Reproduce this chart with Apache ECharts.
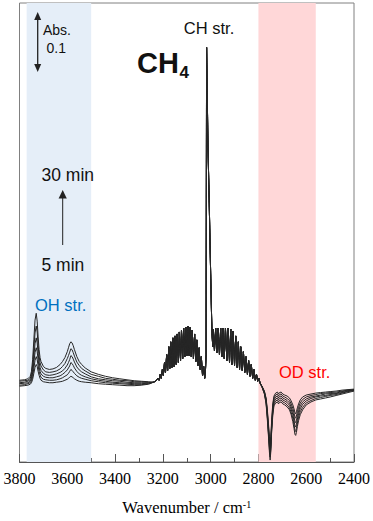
<!DOCTYPE html>
<html>
<head>
<meta charset="utf-8">
<script src="https://cdn.jsdelivr.net/npm/echarts@6/dist/echarts.min.js"></script>
<style>
html,body{margin:0;padding:0;background:#fff;}
#chart{width:373px;height:521px;}
</style>
</head>
<body>
<div id="chart"></div>
<script>
// ---- Data (absorbance, arbitrary offset; 0.1 Abs per scale bar) ----
const seriesNames = ['5 min','10 min','15 min','20 min','25 min','30 min'];
const xTicks = [3800,3600,3400,3200,3000,2800,2600,2400];

// OH stretching region, one array per spectrum
const ohWn = [3800,3780,3765,3755,3750,3745,3740,3735,3730,3726,3722,3718,3714,3710,3700,3690,3675,3660,3645,3630,3620,3610,3600,3595,3590,3585,3580,3575,3570,3560,3550,3540,3525,3500,3470,3440,3410,3380,3350,3320,3290,3260,3248];
const oh5  = [0,0.0008,0.0017,0.0033,0.0058,0.0117,0.0217,0.0317,0.0367,0.0333,0.025,0.0183,0.0133,0.01,0.0075,0.0067,0.0058,0.0058,0.0067,0.0075,0.0083,0.01,0.0117,0.0133,0.015,0.0167,0.0158,0.0142,0.0125,0.01,0.0083,0.0075,0.0067,0.0058,0.0042,0.0033,0.0025,0.0017,0.0008,0.0008,0.0017,0.0033,0.005];
const oh10 = [0.0017,0.0025,0.0042,0.0058,0.0092,0.0167,0.03,0.0433,0.05,0.045,0.0342,0.025,0.0192,0.015,0.0117,0.0108,0.01,0.01,0.0108,0.0125,0.0142,0.0167,0.0192,0.0217,0.025,0.0283,0.0267,0.0242,0.0217,0.0175,0.015,0.0133,0.0117,0.0092,0.0075,0.0058,0.005,0.0042,0.0033,0.0025,0.0025,0.0042,0.0058];
const oh15 = [0.0042,0.005,0.0058,0.0083,0.0125,0.0225,0.04,0.0567,0.065,0.0583,0.0442,0.0325,0.025,0.0208,0.0167,0.015,0.0142,0.0142,0.0158,0.0175,0.02,0.0233,0.0275,0.0308,0.0342,0.04,0.0383,0.035,0.0308,0.025,0.0208,0.0183,0.0158,0.0125,0.01,0.0083,0.0067,0.0058,0.005,0.0042,0.0042,0.005,0.0058];
const oh20 = [0.0058,0.0067,0.0083,0.0108,0.0158,0.0283,0.05,0.0717,0.0817,0.0733,0.055,0.0408,0.0317,0.0267,0.0217,0.0192,0.0183,0.0192,0.0208,0.0233,0.0258,0.03,0.0358,0.04,0.045,0.0517,0.05,0.0458,0.0408,0.0325,0.0275,0.0242,0.0208,0.0158,0.0125,0.0108,0.0092,0.0083,0.0067,0.0058,0.0058,0.0058,0.0067];
const oh25 = [0.0083,0.0092,0.01,0.0133,0.02,0.0358,0.0633,0.09,0.1017,0.0917,0.0683,0.0508,0.04,0.0342,0.0275,0.0242,0.0233,0.0242,0.0258,0.0292,0.0333,0.0383,0.0467,0.0517,0.0575,0.0633,0.0617,0.0567,0.0508,0.0408,0.035,0.03,0.0258,0.02,0.0167,0.0133,0.0117,0.01,0.0092,0.0075,0.0075,0.0067,0.0067];
const oh30 = [0.010,0.0108,0.0125,0.0167,0.025,0.045,0.0783,0.1117,0.1233,0.11,0.0833,0.0617,0.0483,0.0417,0.0333,0.03,0.0283,0.0292,0.0317,0.0367,0.0417,0.0483,0.0583,0.065,0.0717,0.075,0.0733,0.0683,0.0617,0.05,0.0417,0.0367,0.0308,0.0242,0.02,0.0167,0.0142,0.0125,0.0108,0.0092,0.0083,0.0075,0.0067];

// Gas-phase CH4 band (common to all spectra)
const ch4Wn = [3240,3230,3221,3216,3211,3207,3202,3198,3193,3189,3184,3180,3175,3171,3167,3162,3158,3153,3149,3144,3140,3135,3131,3126,3122,3117,3113,3108,3104,3099,3095,3090,3086,3081,3077,3072,3067,3062,3058,3053,3048,3044,3039,3034,3029,3025,3022,3019,3017,3016,3014,3011,3006,3001,2996,2994,2991,2989,2984,2979,2974,2969,2963,2958,2953,2948,2943,2938,2932,2927,2921,2916,2911,2906,2900,2895,2889,2884,2879,2874,2868,2863,2857,2852,2846,2841,2835,2830,2824,2819,2813,2808,2803,2798,2793];
const ch4Abs = [0.0067,0.0083,0.0133,0.0100,0.0200,0.0133,0.0283,0.0183,0.0400,0.0233,0.0533,0.0267,0.0667,0.0300,0.0750,0.0317,0.0817,0.0333,0.0850,0.0367,0.0883,0.0400,0.0917,0.0433,0.0950,0.0467,0.0983,0.0500,0.1000,0.0517,0.1017,0.0517,0.1000,0.0500,0.0950,0.0467,0.0883,0.0417,0.0783,0.0350,0.0650,0.0283,0.0500,0.0183,0.0333,0.0133,0.0233,0.0533,0.5733,0.5733,0.4867,0.4033,0.3117,0.2117,0.1167,0.0867,0.0667,0.0967,0.0600,0.0983,0.0567,0.0983,0.0533,0.0983,0.0500,0.0983,0.0467,0.0983,0.0433,0.0983,0.0400,0.0967,0.0367,0.0933,0.0350,0.0850,0.0317,0.0750,0.0283,0.0667,0.0267,0.0583,0.0233,0.0500,0.0200,0.0433,0.0167,0.0367,0.0133,0.0283,0.0100,0.0200,0.0083,0.0133,0.0050];

// OD stretching region, one array per spectrum
const odWn = [2785,2775,2768,2763,2758,2754,2751,2748,2745,2740,2735,2728,2720,2716,2712,2705,2698,2690,2680,2670,2663,2656,2651,2647,2644,2641,2637,2632,2625,2615,2600,2580,2560,2540,2520,2500,2475,2450,2425,2400];
const od5  = [0,-0.0083,-0.02,-0.0383,-0.0633,-0.085,-0.0967,-0.085,-0.06,-0.03,-0.0167,-0.0117,-0.01,-0.0133,-0.0108,-0.01,-0.0133,-0.015,-0.0167,-0.02,-0.025,-0.0317,-0.0383,-0.045,-0.0467,-0.0433,-0.0367,-0.03,-0.0233,-0.0183,-0.015,-0.0133,-0.0117,-0.0108,-0.01,-0.0092,-0.0083,-0.0067,-0.0058,-0.005];
const od10 = [-0.0003,-0.0092,-0.0217,-0.0417,-0.0675,-0.09,-0.1033,-0.09,-0.065,-0.0333,-0.02,-0.015,-0.0133,-0.0167,-0.0142,-0.0133,-0.0167,-0.0183,-0.0208,-0.0242,-0.03,-0.0375,-0.045,-0.0525,-0.0542,-0.0508,-0.0433,-0.0358,-0.0283,-0.0225,-0.0183,-0.0158,-0.0142,-0.0125,-0.0117,-0.0108,-0.01,-0.0083,-0.0067,-0.0058];
const od15 = [-0.0007,-0.01,-0.0233,-0.045,-0.0717,-0.0967,-0.11,-0.0967,-0.0692,-0.0383,-0.0233,-0.0183,-0.0167,-0.02,-0.0175,-0.0167,-0.02,-0.0217,-0.0242,-0.0283,-0.035,-0.0433,-0.0517,-0.06,-0.0617,-0.0583,-0.05,-0.0417,-0.0333,-0.0267,-0.0217,-0.0183,-0.0167,-0.015,-0.0133,-0.0125,-0.0117,-0.0092,-0.0075,-0.0067];
const od20 = [-0.001,-0.0117,-0.0258,-0.0483,-0.0767,-0.1017,-0.115,-0.1017,-0.0725,-0.0417,-0.0267,-0.0217,-0.02,-0.0233,-0.0208,-0.02,-0.0233,-0.025,-0.0275,-0.0325,-0.0392,-0.0483,-0.0583,-0.0675,-0.0692,-0.065,-0.0558,-0.0467,-0.0383,-0.0308,-0.025,-0.0208,-0.0183,-0.0167,-0.0158,-0.0142,-0.0125,-0.0108,-0.0083,-0.0067];
const od25 = [-0.0013,-0.0125,-0.0275,-0.0517,-0.0808,-0.1067,-0.12,-0.1058,-0.0767,-0.0458,-0.03,-0.025,-0.0233,-0.0267,-0.0242,-0.0233,-0.0267,-0.0283,-0.0317,-0.0367,-0.0442,-0.0542,-0.065,-0.075,-0.0767,-0.0717,-0.0625,-0.0525,-0.0433,-0.0358,-0.0283,-0.0242,-0.0208,-0.0192,-0.0175,-0.0158,-0.0142,-0.0117,-0.0092,-0.0075];
const od30 = [-0.0017,-0.0133,-0.03,-0.055,-0.085,-0.1117,-0.125,-0.11,-0.08,-0.05,-0.0333,-0.0283,-0.0267,-0.03,-0.0275,-0.0267,-0.03,-0.0317,-0.035,-0.04,-0.0483,-0.06,-0.0717,-0.0817,-0.0833,-0.0783,-0.0683,-0.0583,-0.0483,-0.04,-0.0317,-0.0267,-0.0233,-0.0217,-0.02,-0.0183,-0.0158,-0.0133,-0.0108,-0.0083];

const ohSets = [oh5, oh10, oh15, oh20, oh25, oh30];
const odSets = [od5, od10, od15, od20, od25, od30];

// Highlighted bands (cm-1)
const ohBand = [3770, 3500];
const odBand = [2800, 2560];
const yRange = [-0.1283, 0.6483];

// ---- Build ----
function pairs(wn, ab){ return wn.map((w,i)=>[w, ab[i]]); }
const lineColor = '#262626';
const series = [{
  type:'line', data:[], z:1, silent:true,
  markArea:{silent:true, data:[
    [{xAxis:ohBand[0], itemStyle:{color:'#E5EEF8'}}, {xAxis:ohBand[1]}],
    [{xAxis:odBand[0], itemStyle:{color:'#FFD7D8'}}, {xAxis:odBand[1]}]
  ]}
}];
seriesNames.forEach((nm, k)=>{
  const d = [].concat(pairs(ohWn, ohSets[k]), pairs(ch4Wn, ch4Abs), pairs(odWn, odSets[k]));
  series.push({
    name:nm, type:'line', data:d, z:3, showSymbol:false, symbol:'none',
    lineStyle:{color:lineColor, width:1}, silent:true
  });
});

const sans = "'Liberation Sans', Arial, sans-serif";
const serif = "'Liberation Serif', 'Times New Roman', serif";
function txt(x, y, s, size, opts){
  opts = opts || {};
  return {type:'text', x:x, y:y, z:100, silent:true,
    style:{text:s, fontSize:size, fontFamily:sans, fontWeight:opts.bold?'bold':'normal',
      fill:opts.color||'#111', align:opts.align||'left', verticalAlign:'middle'}};
}

const option = {
  animation:false,
  backgroundColor:'#fff',
  grid:{left:19.5, right:15.4, top:3, bottom:52, show:true, borderColor:'#808080', borderWidth:1, backgroundColor:'transparent'},
  xAxis:{
    type:'value', inverse:true, min:xTicks[xTicks.length-1], max:xTicks[0], interval:200,
    axisLine:{show:true, onZero:false, lineStyle:{color:'#555', width:1}},
    axisTick:{show:true, inside:true, length:8, lineStyle:{color:'#555'}},
    minorTick:{show:true, splitNumber:2, length:4, lineStyle:{color:'#555'}},
    splitLine:{show:false}, minorSplitLine:{show:false},
    axisLabel:{fontFamily:serif, fontSize:16, color:'#000', margin:8, formatter:function(v){return String(v);}},
    name:'{a|Wavenumber / cm}{b|-1}', nameLocation:'middle', nameGap:37,
    nameTextStyle:{fontFamily:serif, fontSize:16.5, color:'#000',
      rich:{a:{fontFamily:serif, fontSize:16.5, color:'#000'},
            b:{fontFamily:serif, fontSize:10, color:'#000', verticalAlign:'top'}}}
  },
  yAxis:{type:'value', min:yRange[0], max:yRange[1], show:false, splitLine:{show:false}},
  series:series,
  graphic:[
    txt(209, 27.5, 'CH str.', 16.5, {align:'center'}),
    txt(137, 63, 'CH', 29, {bold:true}),
    txt(179.5, 72, '4', 17, {bold:true}),
    txt(43, 30, 'Abs.', 14),
    txt(46.5, 47.5, '0.1', 14),
    txt(41.5, 174.5, '30 min', 17.5),
    txt(41.5, 264.5, '5 min', 17.5),
    txt(35, 305, 'OH str.', 16.5, {color:'#0070C0'}),
    txt(279, 372, 'OD str.', 16.5, {color:'#FF0000'}),
    {type:'line', z:100, silent:true, shape:{x1:37.7, y1:18, x2:37.7, y2:66}, style:{stroke:'#222', lineWidth:1.3}},
    {type:'polygon', z:100, silent:true, shape:{points:[[37.7,12],[34.2,20],[41.2,20]]}, style:{fill:'#222'}},
    {type:'polygon', z:100, silent:true, shape:{points:[[37.7,72],[34.2,64],[41.2,64]]}, style:{fill:'#222'}},
    {type:'line', z:100, silent:true, shape:{x1:62.7, y1:197, x2:62.7, y2:245}, style:{stroke:'#222', lineWidth:1}},
    {type:'polygon', z:100, silent:true, shape:{points:[[62.7,190],[58.6,198.5],[66.8,198.5]]}, style:{fill:'#222'}}
  ]
};

const chart = echarts.init(document.getElementById('chart'), null, {renderer:'svg'});
chart.setOption(option);
</script>
</body>
</html>
